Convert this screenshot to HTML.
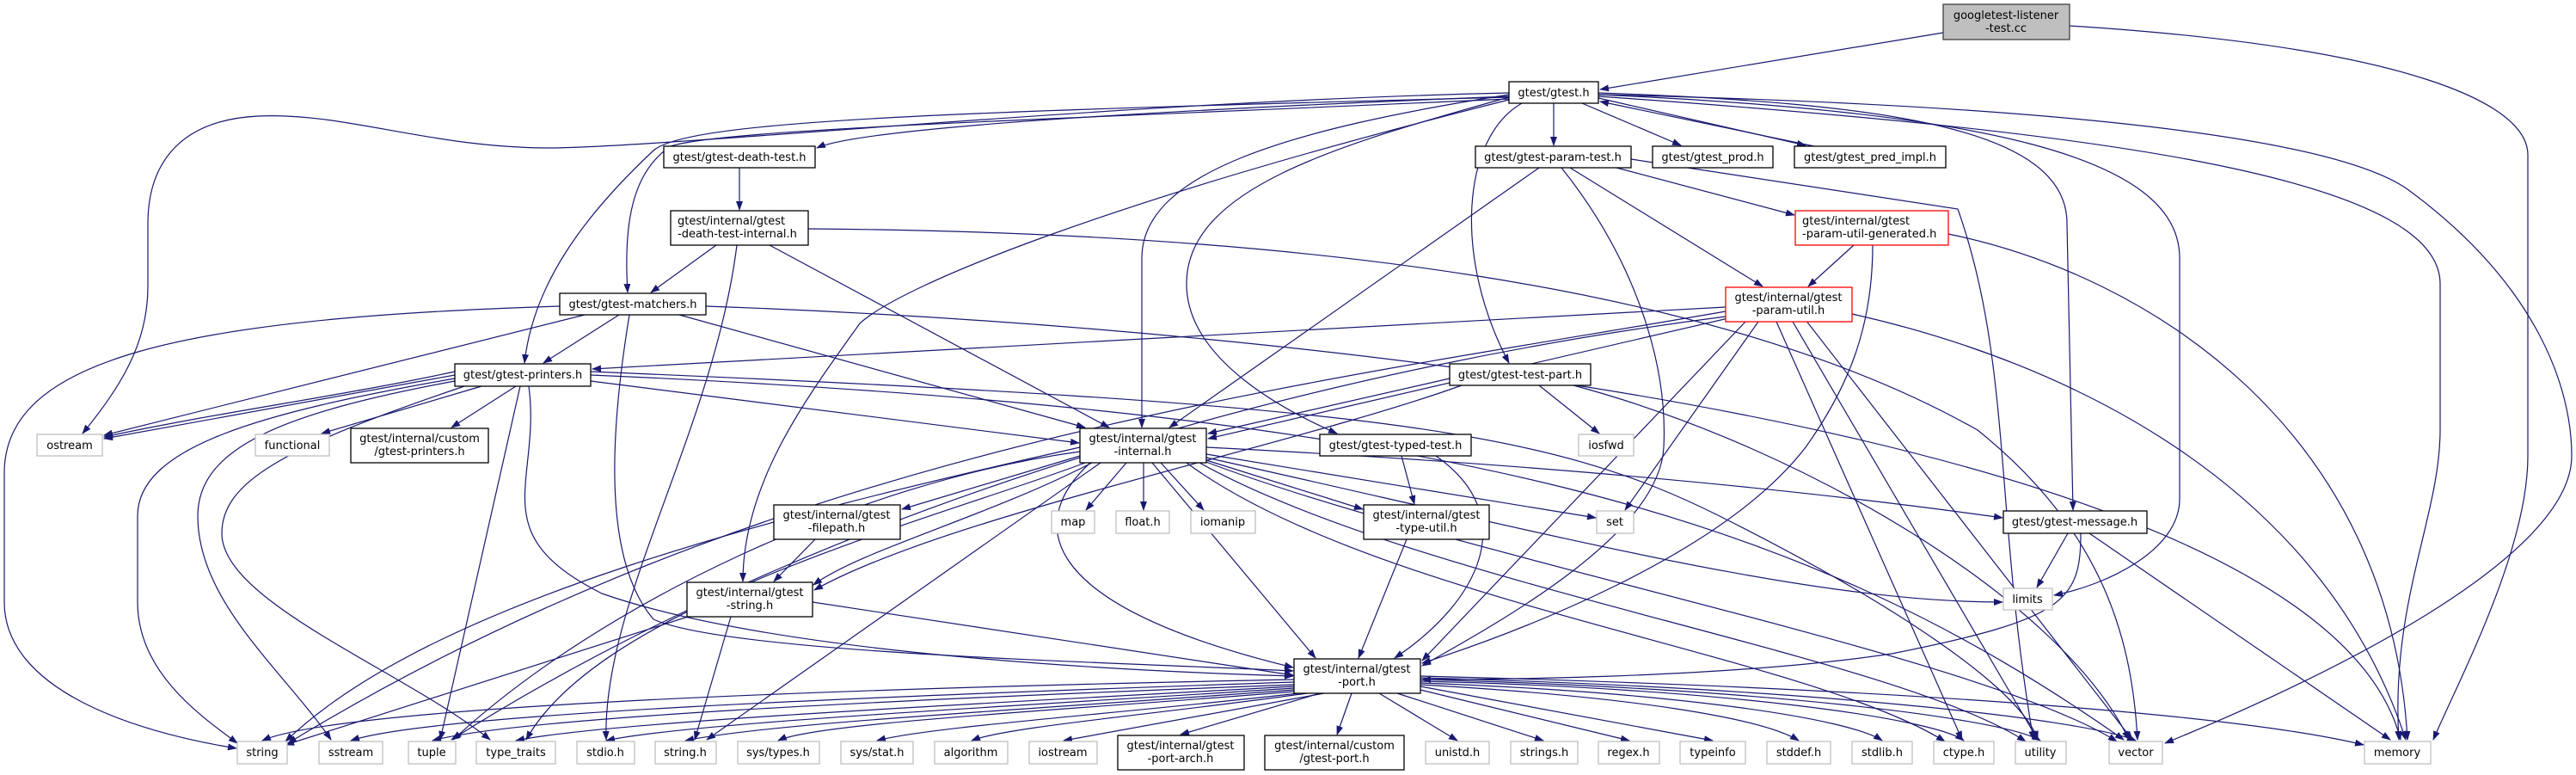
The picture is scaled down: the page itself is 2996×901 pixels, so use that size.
<!DOCTYPE html>
<html><head><meta charset="utf-8"><style>
html,body{margin:0;padding:0;background:#fff;}
svg{display:block;}
text{font-family:"DejaVu Sans","Liberation Sans",sans-serif;font-size:13px;fill:#000;}
.e{fill:none;stroke:#191970;stroke-width:1.2;marker-end:url(#a);}
.n{fill:#fff;stroke:#000;stroke-width:1.3;}
.g{fill:#fff;stroke:#bfbfbf;stroke-width:1.3;}
.r{fill:#fff;stroke:#ff0000;stroke-width:1.3;}
</style></head><body>
<svg width="2996" height="901" viewBox="0 0 2996 901" xmlns="http://www.w3.org/2000/svg">
<defs><marker id="a" markerWidth="11" markerHeight="8" refX="10" refY="4" orient="auto" markerUnits="userSpaceOnUse"><path d="M0,0 L11,4 L0,8z" fill="#191970"/></marker></defs>
<g>
<path class="e" d="M2260,38 L1861,104"/>
<path class="e" d="M2407,30 C2800,55 2940,120 2940,180 L2940,530 C2940,640 2860,790 2830,860"/>
<path class="e" d="M1755,112 C1300,130 1000,150 950,172"/>
<path class="e" d="M1807,120 L1807,169"/>
<path class="e" d="M1840,120 L1955,169"/>
<path class="e" d="M1859,114 L2100,169"/>
<path class="e" d="M2110,170 L1861,118"/>
<path class="e" d="M1755,115 C1200,140 840,150 780,170 C735,200 725,260 730,340"/>
<path class="e" d="M1755,113 C1100,130 800,140 760,175 C680,250 620,330 610,422"/>
<path class="e" d="M1755,108 C1300,118 800,170 640,172 C500,172 400,130 300,135 C200,140 172,200 172,260 L172,333 C172,400 140,450 96,504"/>
<path class="e" d="M1770,120 C1700,160 1690,300 1755,422"/>
<path class="e" d="M1755,110 C1500,150 1328,200 1328,300 L1328,497"/>
<path class="e" d="M1755,113 C1550,170 1380,220 1380,330 C1380,420 1500,480 1555,504"/>
<path class="e" d="M1755,116 C1300,230 1050,330 1000,376 C940,460 864,560 864,676"/>
<path class="e" d="M1859,108 C2200,120 2404,150 2404,260 L2411,593"/>
<path class="e" d="M1859,110 C2300,130 2535,180 2535,300 L2535,580 C2535,640 2450,680 2389,692"/>
<path class="e" d="M1859,112 C2400,150 2838,200 2838,330 L2838,500 C2838,600 2780,700 2790,860"/>
<path class="e" d="M1859,110 C2300,120 2700,150 2800,220 C2950,330 2991,450 2991,530 C2991,650 2700,790 2518,864"/>
<path class="e" d="M860,195 L860,244"/>
<path class="e" d="M1790,195 L1360,497"/>
<path class="e" d="M1816,195 C1900,300 1940,420 1935,520 C1930,620 1750,720 1654,774"/>
<path class="e" d="M1880,195 L2087,250"/>
<path class="e" d="M1826,195 L2050,333"/>
<path class="e" d="M1897,185 L2277,243 C2340,420 2320,600 2365,860"/>
<path class="e" d="M2156,285 L2103,333"/>
<path class="e" d="M2178,285 C2178,380 2150,450 2100,520 C2000,650 1750,740 1654,771"/>
<path class="e" d="M2266,272 C2500,320 2780,500 2800,860"/>
<path class="e" d="M2007,357 L689,429"/>
<path class="e" d="M2010,370 L1405,510"/>
<path class="e" d="M2030,374 L1654,768"/>
<path class="e" d="M2045,374 L1890,593"/>
<path class="e" d="M2007,368 C1600,420 1000,560 525,860"/>
<path class="e" d="M2066,374 L2282,860"/>
<path class="e" d="M2085,374 L2370,860"/>
<path class="e" d="M2100,372 L2480,860"/>
<path class="e" d="M2154,365 C2400,420 2700,560 2798,860"/>
<path class="e" d="M2007,362 C1500,450 900,520 335,864"/>
<path class="e" d="M529,436 L121,510"/>
<path class="e" d="M529,432 C400,460 250,480 121,508"/>
<path class="e" d="M560,449 L374,504"/>
<path class="e" d="M600,449 L525,497"/>
<path class="e" d="M605,449 L512,860"/>
<path class="e" d="M529,440 C300,480 160,520 160,600 L160,700 C160,780 230,830 276,864"/>
<path class="e" d="M529,443 C330,480 230,520 230,600 C230,700 330,780 385,860"/>
<path class="e" d="M540,449 C330,520 258,560 258,620 C258,700 470,780 570,860"/>
<path class="e" d="M615,449 C630,560 560,620 700,690 C900,760 1300,780 1504,786"/>
<path class="e" d="M687,443 L1255,515"/>
<path class="e" d="M687,432 C1600,470 1800,500 2000,600 C2200,700 2350,800 2370,860"/>
<path class="e" d="M687,436 C1700,480 2100,600 2470,860"/>
<path class="e" d="M720,366 L632,422"/>
<path class="e" d="M790,366 L1262,497"/>
<path class="e" d="M732,366 C710,500 700,650 760,720 C850,760 1300,770 1504,780"/>
<path class="e" d="M680,366 L121,506"/>
<path class="e" d="M651,356 C200,370 5,420 5,550 L5,700 C5,800 150,850 275,870"/>
<path class="e" d="M821,356 C1500,380 2700,500 2792,860"/>
<path class="e" d="M833,285 L757,340"/>
<path class="e" d="M895,285 L1290,497"/>
<path class="e" d="M857,285 C830,500 700,700 705,860"/>
<path class="e" d="M940,266 C1500,270 2000,330 2300,500 C2450,620 2480,750 2486,860"/>
<path class="e" d="M1686,440 L1405,504"/>
<path class="e" d="M1700,448 C1500,520 1100,600 947,686"/>
<path class="e" d="M1790,448 L1860,504"/>
<path class="e" d="M1830,448 C2100,520 2400,700 2476,860"/>
<path class="e" d="M1630,530 L1645,586"/>
<path class="e" d="M1670,530 C1770,600 1720,700 1622,765"/>
<path class="e" d="M1268,538 C1200,600 1190,700 1504,776"/>
<path class="e" d="M1403,520 C1800,540 2100,570 2329,602"/>
<path class="e" d="M1256,530 L1049,592"/>
<path class="e" d="M1270,538 C1150,600 1000,640 946,680"/>
<path class="e" d="M1403,535 L1585,592"/>
<path class="e" d="M1310,538 L1263,593"/>
<path class="e" d="M1330,538 L1330,593"/>
<path class="e" d="M1350,538 L1400,593"/>
<path class="e" d="M1403,528 L1856,602"/>
<path class="e" d="M1403,532 C1800,620 2100,700 2329,700"/>
<path class="e" d="M1256,520 C900,600 500,700 332,862"/>
<path class="e" d="M1280,538 L822,860"/>
<path class="e" d="M1262,538 C1100,600 700,700 612,860"/>
<path class="e" d="M1256,525 C1000,560 700,700 527,860"/>
<path class="e" d="M1380,538 C1600,700 2100,760 2262,862"/>
<path class="e" d="M1395,538 C1650,680 2200,760 2356,862"/>
<path class="e" d="M1400,536 C1700,650 2300,760 2462,862"/>
<path class="e" d="M1340,538 L1530,765"/>
<path class="e" d="M948,627 L900,676"/>
<path class="e" d="M945,700 L1504,785"/>
<path class="e" d="M800,717 L332,866"/>
<path class="e" d="M850,717 L808,860"/>
<path class="e" d="M1636,627 L1580,765"/>
<path class="e" d="M2405,620 L2369,683"/>
<path class="e" d="M2420,620 C2420,700 2400,720 2200,760 C2000,790 1700,790 1654,790"/>
<path class="e" d="M2430,620 L2780,860"/>
<path class="e" d="M1505,790 C1000,800 400,820 305,861"/>
<path class="e" d="M1505,793 C1000,810 500,830 408,861"/>
<path class="e" d="M1505,796 C1000,815 600,835 503,861"/>
<path class="e" d="M1505,798 C1100,820 700,840 600,861"/>
<path class="e" d="M1505,800 C1200,820 800,840 705,861"/>
<path class="e" d="M1505,802 C1200,825 900,840 797,861"/>
<path class="e" d="M1505,804 C1250,825 950,840 905,861"/>
<path class="e" d="M1510,806 C1300,830 1080,845 1020,861"/>
<path class="e" d="M1520,806 C1350,830 1170,845 1130,861"/>
<path class="e" d="M1540,806 L1237,861"/>
<path class="e" d="M1535,806 L1373,854"/>
<path class="e" d="M1572,806 L1555,854"/>
<path class="e" d="M1604,806 L1695,861"/>
<path class="e" d="M1625,806 L1795,861"/>
<path class="e" d="M1652,802 L1895,861"/>
<path class="e" d="M1652,798 L1992,861"/>
<path class="e" d="M1652,796 C1900,810 2050,835 2092,861"/>
<path class="e" d="M1652,794 C1950,805 2150,835 2189,861"/>
<path class="e" d="M1652,792 C2000,800 2250,835 2284,861"/>
<path class="e" d="M1652,790 C2050,800 2330,835 2373,861"/>
<path class="e" d="M1652,788 C2100,800 2420,835 2484,861"/>
<path class="e" d="M1652,786 C2200,800 2600,830 2749,866"/>
</g>
<g>
<rect x="2260" y="5" width="147" height="41" style="fill:#bfbfbf;stroke:#404040;stroke-width:1.3"/>
<text x="2333" y="22" text-anchor="middle">googletest-listener</text><text x="2333" y="37" text-anchor="middle">-test.cc</text>
<rect class="n" x="1755" y="95" width="104" height="25"/><text x="1807" y="112" text-anchor="middle">gtest/gtest.h</text>
<rect class="n" x="772" y="170" width="176" height="25"/><text x="860" y="187" text-anchor="middle">gtest/gtest-death-test.h</text>
<rect class="n" x="1716" y="170" width="181" height="25"/><text x="1806" y="187" text-anchor="middle">gtest/gtest-param-test.h</text>
<rect class="n" x="1922" y="170" width="140" height="25"/><text x="1992" y="187" text-anchor="middle">gtest/gtest_prod.h</text>
<rect class="n" x="2087" y="170" width="176" height="25"/><text x="2175" y="187" text-anchor="middle">gtest/gtest_pred_impl.h</text>
<rect class="n" x="780" y="245" width="160" height="40"/><text x="788" y="261">gtest/internal/gtest</text><text x="788" y="276">-death-test-internal.h</text>
<rect class="r" x="2088" y="245" width="178" height="40"/><text x="2096" y="261">gtest/internal/gtest</text><text x="2096" y="276">-param-util-generated.h</text>
<rect class="n" x="651" y="341" width="170" height="25"/><text x="736" y="358" text-anchor="middle">gtest/gtest-matchers.h</text>
<rect class="r" x="2007" y="334" width="147" height="40"/><text x="2080" y="350" text-anchor="middle">gtest/internal/gtest</text><text x="2080" y="365" text-anchor="middle">-param-util.h</text>
<rect class="n" x="529" y="423" width="158" height="26"/><text x="608" y="440" text-anchor="middle">gtest/gtest-printers.h</text>
<rect class="n" x="1686" y="423" width="164" height="25"/><text x="1768" y="440" text-anchor="middle">gtest/gtest-test-part.h</text>
<rect class="g" x="43" y="505" width="76" height="25"/><text x="81" y="522" text-anchor="middle">ostream</text>
<rect class="g" x="297" y="505" width="86" height="25"/><text x="340" y="522" text-anchor="middle">functional</text>
<rect class="n" x="408" y="498" width="160" height="40"/><text x="488" y="514" text-anchor="middle">gtest/internal/custom</text><text x="488" y="529" text-anchor="middle">/gtest-printers.h</text>
<rect class="n" x="1256" y="498" width="147" height="40"/><text x="1329" y="514" text-anchor="middle">gtest/internal/gtest</text><text x="1329" y="529" text-anchor="middle">-internal.h</text>
<rect class="n" x="1535" y="505" width="176" height="25"/><text x="1623" y="522" text-anchor="middle">gtest/gtest-typed-test.h</text>
<rect class="g" x="1836" y="505" width="64" height="25"/><text x="1868" y="522" text-anchor="middle">iosfwd</text>
<rect class="n" x="900" y="587" width="147" height="40"/><text x="973" y="603" text-anchor="middle">gtest/internal/gtest</text><text x="973" y="618" text-anchor="middle">-filepath.h</text>
<rect class="g" x="1223" y="594" width="50" height="26"/><text x="1248" y="611" text-anchor="middle">map</text>
<rect class="g" x="1298" y="594" width="62" height="26"/><text x="1329" y="611" text-anchor="middle">float.h</text>
<rect class="g" x="1385" y="594" width="75" height="26"/><text x="1422" y="611" text-anchor="middle">iomanip</text>
<rect class="n" x="1586" y="587" width="146" height="40"/><text x="1659" y="603" text-anchor="middle">gtest/internal/gtest</text><text x="1659" y="618" text-anchor="middle">-type-util.h</text>
<rect class="g" x="1857" y="594" width="43" height="26"/><text x="1878" y="611" text-anchor="middle">set</text>
<rect class="n" x="2330" y="594" width="167" height="26"/><text x="2413" y="611" text-anchor="middle">gtest/gtest-message.h</text>
<rect class="n" x="799" y="677" width="146" height="40"/><text x="872" y="693" text-anchor="middle">gtest/internal/gtest</text><text x="872" y="708" text-anchor="middle">-string.h</text>
<rect class="g" x="2330" y="684" width="57" height="25"/><text x="2358" y="701" text-anchor="middle">limits</text>
<rect class="n" x="1505" y="766" width="147" height="40"/><text x="1578" y="782" text-anchor="middle">gtest/internal/gtest</text><text x="1578" y="797" text-anchor="middle">-port.h</text>
<rect class="g" x="276" y="862" width="58" height="26"/><text x="305" y="879" text-anchor="middle">string</text>
<rect class="g" x="371" y="862" width="74" height="26"/><text x="408" y="879" text-anchor="middle">sstream</text>
<rect class="g" x="475" y="862" width="55" height="26"/><text x="502" y="879" text-anchor="middle">tuple</text>
<rect class="g" x="554" y="862" width="92" height="26"/><text x="600" y="879" text-anchor="middle">type_traits</text>
<rect class="g" x="671" y="862" width="67" height="26"/><text x="704" y="879" text-anchor="middle">stdio.h</text>
<rect class="g" x="762" y="862" width="71" height="26"/><text x="797" y="879" text-anchor="middle">string.h</text>
<rect class="g" x="858" y="862" width="95" height="26"/><text x="905" y="879" text-anchor="middle">sys/types.h</text>
<rect class="g" x="978" y="862" width="84" height="26"/><text x="1020" y="879" text-anchor="middle">sys/stat.h</text>
<rect class="g" x="1087" y="862" width="85" height="26"/><text x="1129" y="879" text-anchor="middle">algorithm</text>
<rect class="g" x="1197" y="862" width="79" height="26"/><text x="1236" y="879" text-anchor="middle">iostream</text>
<rect class="n" x="1300" y="855" width="147" height="40"/><text x="1373" y="871" text-anchor="middle">gtest/internal/gtest</text><text x="1373" y="886" text-anchor="middle">-port-arch.h</text>
<rect class="n" x="1471" y="855" width="162" height="40"/><text x="1552" y="871" text-anchor="middle">gtest/internal/custom</text><text x="1552" y="886" text-anchor="middle">/gtest-port.h</text>
<rect class="g" x="1658" y="862" width="74" height="26"/><text x="1695" y="879" text-anchor="middle">unistd.h</text>
<rect class="g" x="1757" y="862" width="78" height="26"/><text x="1796" y="879" text-anchor="middle">strings.h</text>
<rect class="g" x="1859" y="862" width="71" height="26"/><text x="1894" y="879" text-anchor="middle">regex.h</text>
<rect class="g" x="1954" y="862" width="76" height="26"/><text x="1992" y="879" text-anchor="middle">typeinfo</text>
<rect class="g" x="2055" y="862" width="74" height="26"/><text x="2092" y="879" text-anchor="middle">stddef.h</text>
<rect class="g" x="2154" y="862" width="70" height="26"/><text x="2189" y="879" text-anchor="middle">stdlib.h</text>
<rect class="g" x="2249" y="862" width="70" height="26"/><text x="2284" y="879" text-anchor="middle">ctype.h</text>
<rect class="g" x="2344" y="862" width="59" height="26"/><text x="2373" y="879" text-anchor="middle">utility</text>
<rect class="g" x="2453" y="862" width="62" height="26"/><text x="2484" y="879" text-anchor="middle">vector</text>
<rect class="g" x="2750" y="862" width="77" height="26"/><text x="2788" y="879" text-anchor="middle">memory</text>
</g>
</svg>
</body></html>
